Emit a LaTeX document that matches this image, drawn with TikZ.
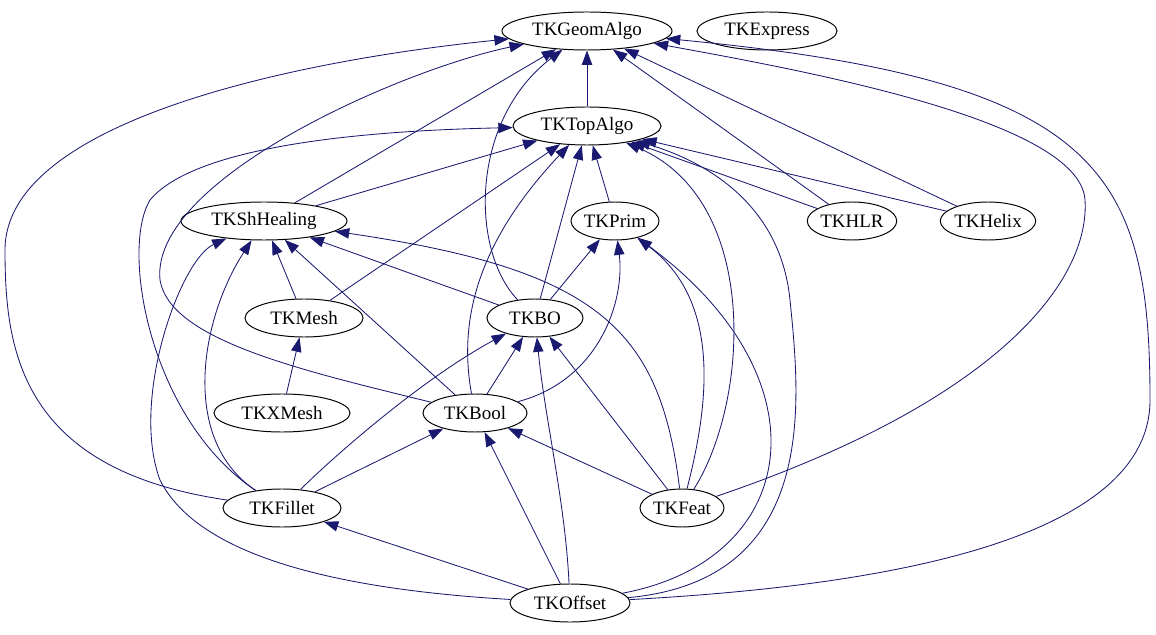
\documentclass[tikz,border=0pt]{standalone}
\usepackage{fontspec}
\setmainfont{Liberation Serif}
\usetikzlibrary{shapes.geometric,arrows.meta}
\definecolor{edgeblue}{RGB}{25,25,112}
\tikzset{
	lib/.style={draw, line width=0.7pt, ellipse, inner sep=0pt, minimum height=0.95cm, font=\fontsize{13.5}{16}\selectfont},
	dep/.style={draw=edgeblue, -{Triangle[length=3.6mm,width=2.6mm]}, fill=none, edgeblue, line width=0.6pt}
}
\begin{document}
\begin{tikzpicture}[x=0.025cm, y=-0.025cm]
	% page: 1156 x 635 px
	\useasboundingbox (0,0) rectangle (1156,635);
	% libraries
	\node[lib, minimum width=4.25cm] (geomalgo) at (587,31) {TKGeomAlgo};
	\node[lib, minimum width=3.5cm] (express) at (767,31) {TKExpress};
	\node[lib, minimum width=3.7cm] (topalgo) at (587,126) {TKTopAlgo};
	\node[lib, minimum width=4.15cm] (shhealing) at (264,221) {TKShHealing};
	\node[lib, minimum width=2.15cm] (prim) at (615,221) {TKPrim};
	\node[lib, minimum width=2.15cm] (hlr) at (852,221) {TKHLR};
	\node[lib, minimum width=2.25cm] (helix) at (988,221) {TKHelix};
	\node[lib, minimum width=2.95cm] (mesh) at (304,318) {TKMesh};
	\node[lib, minimum width=2.4cm] (bo) at (535,318) {TKBO};
	\node[lib, minimum width=3.4cm] (xmesh) at (282,413) {TKXMesh};
	\node[lib, minimum width=2.6cm] (bool) at (475,413) {TKBool};
	\node[lib, minimum width=2.95cm] (fillet) at (282,508) {TKFillet};
	\node[lib, minimum width=2.1cm] (feat) at (682,508) {TKFeat};
	\node[lib, minimum width=3cm] (offset) at (570,603) {TKOffset};
	% straight dependencies
	\draw[dep] (topalgo) -- (geomalgo);
	\draw[dep] (shhealing) -- (geomalgo);
	\draw[dep] (shhealing) -- (topalgo);
	\draw[dep] (prim) -- (topalgo);
	\draw[dep] (hlr) -- (geomalgo);
	\draw[dep] (hlr) -- (topalgo);
	\draw[dep] (helix) -- (geomalgo);
	\draw[dep] (helix) -- (topalgo);
	\draw[dep] (mesh) -- (shhealing);
	\draw[dep] (mesh) -- (topalgo);
	\draw[dep] (bo) -- (topalgo);
	\draw[dep] (bo) -- (prim);
	\draw[dep] (bo) -- (shhealing);
	\draw[dep] (xmesh) -- (mesh);
	\draw[dep] (bool) -- (bo);
	\draw[dep] (bool) -- (shhealing);
	\draw[dep] (fillet) -- (bool);
	\draw[dep] (fillet) .. controls (330,460) and (420,380) .. (bo);
	\draw[dep] (feat) -- (bool);
	\draw[dep] (feat) -- (bo);
	\draw[dep] (offset) -- (fillet);
	\draw[dep] (offset) -- (bool);
	\draw[dep] (offset) .. controls (565,500) and (545,420) .. (bo);
	% curved dependencies
	\draw[dep] (bo) .. controls (470,250) and (470,120) .. (geomalgo);
	\draw[dep] (bool) .. controls (460,330) and (470,250) .. (topalgo);
	\draw[dep] (bool) .. controls (600,380) and (625,300) .. (prim);
	\draw[dep] (bool) .. controls (300,370) and (170,340) .. (160,280) .. controls (150,180) and (400,70) .. (geomalgo);
	\draw[dep] (fillet) .. controls (180,440) and (200,320) .. (shhealing);
	\draw[dep] (fillet) .. controls (150,420) and (120,250) .. (150,200) .. controls (200,140) and (400,130) .. (topalgo);
	\draw[dep] (fillet) .. controls (20,470) and (5,350) .. (5,250) .. controls (5,120) and (300,60) .. (geomalgo);
	\draw[dep] (feat) .. controls (710,400) and (720,300) .. (prim);
	\draw[dep] (feat) .. controls (750,400) and (760,200) .. (topalgo);
	\draw[dep] (feat) .. controls (660,330) and (600,270) .. (shhealing);
	\draw[dep] (feat) .. controls (1000,400) and (1090,280) .. (1085,200) .. controls (1080,120) and (800,70) .. (geomalgo);
	\draw[dep] (offset) .. controls (350,590) and (200,560) .. (160,480) .. controls (130,400) and (180,260) .. (shhealing);
	\draw[dep] (offset) .. controls (800,560) and (830,380) .. (prim);
	\draw[dep] (offset) .. controls (820,580) and (800,400) .. (790,300) .. controls (780,200) and (700,160) .. (topalgo);
	\draw[dep] (offset) .. controls (800,590) and (1150,560) .. (1150,400) .. controls (1150,170) and (1100,80) .. (geomalgo);
\end{tikzpicture}
\end{document}
